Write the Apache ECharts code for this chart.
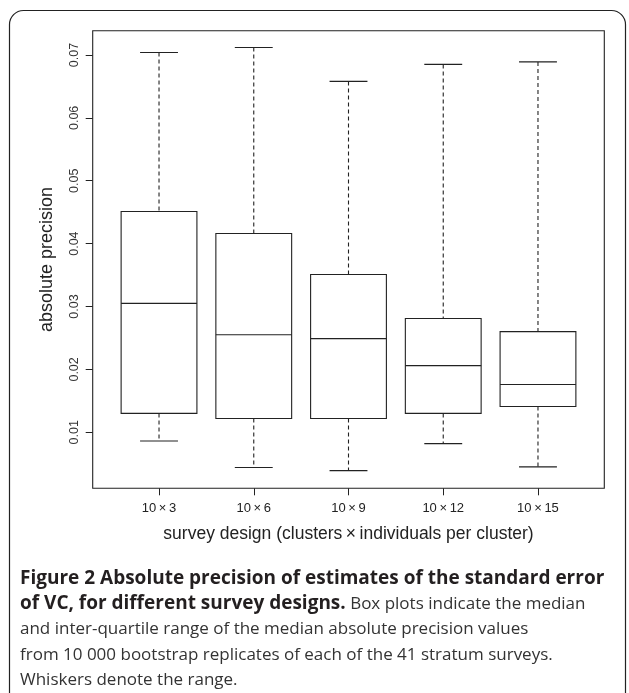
<!DOCTYPE html>
<html>
<head>
<meta charset="utf-8">
<script src="https://cdn.jsdelivr.net/npm/echarts@6/dist/echarts.min.js"></script>
<style>
  html, body { margin: 0; padding: 0; background: #fff; }
  #chart { width: 629px; height: 693px; }
</style>
</head>
<body>
<div id="chart"></div>
<script>
// Survey designs (clusters x individuals per cluster)
const designs = ['10\u2009\u00d7\u20093', '10\u2009\u00d7\u20096', '10\u2009\u00d7\u20099', '10\u2009\u00d7\u200912', '10\u2009\u00d7\u200915'];
// Box plot statistics of the median absolute precision
const whiskerLow    = [0.0086, 0.0044, 0.0039, 0.0082, 0.0045];
const lowerQuartile = [0.0130, 0.0122, 0.0122, 0.0130, 0.0141];
const median        = [0.0305, 0.0255, 0.0249, 0.0206, 0.0176];
const upperQuartile = [0.0451, 0.0416, 0.0351, 0.0281, 0.0260];
const whiskerHigh   = [0.0704, 0.0712, 0.0658, 0.0685, 0.0689];
// Y axis tick values
const yTicks = [0.01, 0.02, 0.03, 0.04, 0.05, 0.06, 0.07];

const boxData = designs.map((d, i) => [i + 1, whiskerLow[i], lowerQuartile[i], median[i], upperQuartile[i], whiskerHigh[i]]);
const xTicks = designs.map((d, i) => i + 1);

const ink = '#222';
const font = '"Liberation Sans", Arial, sans-serif';

function renderBox(params, api) {
  const x = api.value(0);
  const lo = api.coord([x, api.value(1)]);
  const q1 = api.coord([x, api.value(2)]);
  const md = api.coord([x, api.value(3)]);
  const q3 = api.coord([x, api.value(4)]);
  const hi = api.coord([x, api.value(5)]);
  const boxW = api.size([0.8, 0])[0];
  const capW = boxW / 2;
  const cx = lo[0];
  const solid = { stroke: ink, lineWidth: 1.1, fill: null };
  const dashed = { stroke: ink, lineWidth: 1.1, lineDash: [4, 3] };
  return {
    type: 'group',
    children: [
      { type: 'line', shape: { x1: cx, y1: hi[1], x2: cx, y2: q3[1] }, style: dashed },
      { type: 'line', shape: { x1: cx, y1: q1[1], x2: cx, y2: lo[1] }, style: dashed },
      { type: 'line', shape: { x1: cx - capW / 2, y1: hi[1], x2: cx + capW / 2, y2: hi[1] }, style: solid },
      { type: 'line', shape: { x1: cx - capW / 2, y1: lo[1], x2: cx + capW / 2, y2: lo[1] }, style: solid },
      { type: 'rect', shape: { x: cx - boxW / 2, y: q3[1], width: boxW, height: q1[1] - q3[1] }, style: solid },
      { type: 'line', shape: { x1: cx - boxW / 2, y1: md[1], x2: cx + boxW / 2, y2: md[1] }, style: solid }
    ]
  };
}

const chart = echarts.init(document.getElementById('chart'), null, { renderer: 'canvas' });
chart.setOption({
  animation: false,
  backgroundColor: '#fff',
  grid: {
    show: true, left: 92.7, top: 30.7, right: 24.7, bottom: 204.7,
    borderColor: ink, borderWidth: 1.1, backgroundColor: 'transparent'
  },
  xAxis: {
    type: 'value', min: 0.3, max: 5.7,
    name: 'survey design (clusters\u2009\u00d7\u2009individuals per cluster)',
    nameLocation: 'middle', nameGap: 37,
    nameTextStyle: { fontFamily: font, fontSize: 17.5, color: ink },
    axisLine: { show: false },
    splitLine: { show: false },
    axisTick: { show: true, inside: false, length: 7, customValues: xTicks, lineStyle: { color: ink } },
    axisLabel: {
      show: true, customValues: xTicks, margin: 14,
      fontFamily: font, fontSize: 13, color: ink,
      formatter: v => designs[Math.round(v) - 1] || ''
    }
  },
  yAxis: {
    type: 'value', min: 0.00109, max: 0.07386,
    name: 'absolute precision',
    nameLocation: 'middle', nameGap: 37, nameRotate: 90,
    nameTextStyle: { fontFamily: font, fontSize: 18, color: ink },
    axisLine: { show: false },
    splitLine: { show: false },
    axisTick: { show: true, inside: false, length: 7, customValues: yTicks, lineStyle: { color: ink } },
    axisLabel: {
      show: true, customValues: yTicks, rotate: 90, margin: 12,
      fontFamily: font, fontSize: 12.5, color: '#333',
      formatter: v => v.toFixed(2)
    }
  },
  series: [{
    type: 'custom',
    renderItem: renderBox,
    encode: { x: 0, y: [1, 2, 3, 4, 5] },
    data: boxData,
    clip: false
  }],
  graphic: [
    {
      type: 'rect', silent: true,
      shape: { x: 9.5, y: 10.5, width: 616, height: 720, r: 14 },
      style: { fill: null, stroke: ink, lineWidth: 1.2 }
    },
    {
      type: 'text', left: 20, top: 569, silent: true,
      style: {
        text: '{b|Figure 2 Absolute precision of estimates of the standard error}\n' +
              '{b|of VC, for different survey designs.}{r| Box plots indicate the median}\n' +
              '{r|and inter-quartile range of the median absolute precision values}\n' +
              '{r|from 10 000 bootstrap replicates of each of the 41 stratum surveys.}\n' +
              '{r|Whiskers denote the range.}',
        rich: {
          b: { fontFamily: '"Open Sans", sans-serif', fontWeight: 'bold', fontSize: 19, lineHeight: 25.5, fill: '#231f20' },
          r: { fontFamily: '"Open Sans", sans-serif', fontSize: 17, lineHeight: 25.5, fill: '#333' }
        }
      }
    }
  ]
});
</script>
</body>
</html>
